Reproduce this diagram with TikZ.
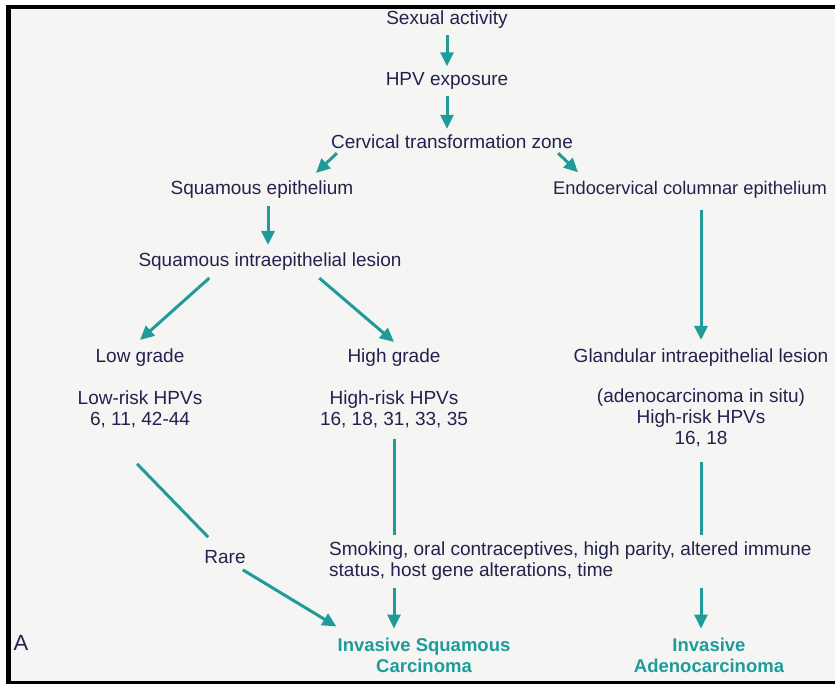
\documentclass[tikz,border=0pt]{standalone}
\usepackage{fontspec}
\setmainfont{Liberation Sans}
\usetikzlibrary{arrows.meta,calc}
\definecolor{ink}{HTML}{23224F}
\definecolor{tealc}{HTML}{1F9C9A}
\definecolor{bgc}{HTML}{F5F5F3}
\begin{document}
\begin{tikzpicture}[x=1pt,y=-1pt,
  lbl/.style={text=ink,font=\fontsize{19}{21}\selectfont,inner sep=0pt,align=center},
  outc/.style={text=tealc,font=\fontsize{18.5}{21}\selectfont\bfseries,inner sep=0pt,align=center},
  arr/.style={draw=tealc,line width=3pt,-{Triangle[width=13pt,length=14pt]}},
  ln/.style={draw=tealc,line width=3pt}]
\useasboundingbox (0,0) rectangle (835,684);
\clip (0,0) rectangle (835,684);
\fill[white] (0,0) rectangle (835,684);
\fill[bgc] (9,7) rectangle (840,681);
\draw[line width=4.5pt] (8.5,690) -- (8.5,7) -- (840,7);
\draw[line width=3pt] (8.5,682) -- (840,682);

\node[lbl] (sex) at (447,20) {Sexual activity};
\node[lbl] (hpv) at (447,81) {HPV exposure};
\node[lbl] (ctz) at (452,142) {Cervical transformation zone};
\node[lbl] (sq) at (262,190) {Squamous epithelium};
\node[lbl,anchor=west,font=\fontsize{18.3}{21}\selectfont] (endo) at (553,190) {Endocervical columnar epithelium};
\node[lbl] (sil) at (270,262) {Squamous intraepithelial lesion};
\node[lbl] (low) at (140,358) {Low grade};
\node[lbl] (high) at (394,358) {High grade};
\node[lbl] (gland) at (701,358) {Glandular intraepithelial lesion};
\node[lbl] (lowrisk) at (140,409) {Low-risk HPVs\\6, 11, 42-44};
\node[lbl] (highrisk) at (394,409) {High-risk HPVs\\16, 18, 31, 33, 35};
\node[lbl] (adeno) at (701,418) {(adenocarcinoma in situ)\\High-risk HPVs\\16, 18};
\node[lbl] (rare) at (225,557) {Rare};
\node[lbl,align=left,anchor=west] (smoke) at (329,561) {Smoking, oral contraceptives, high parity, altered immune\\status, host gene alterations, time};
\node[outc] (iscc) at (424,655) {Invasive Squamous\\Carcinoma};
\node[outc] (iadc) at (709,655) {Invasive\\Adenocarcinoma};
\node[lbl,font=\fontsize{22}{24}\selectfont] (lblA) at (21,643) {A};

\draw[arr] ($(sex.south)+(0,6)$) -- ($(hpv.north)+(0,-6)$);
\draw[arr] ($(hpv.south)+(0,6)$) -- ($(hpv.south |- ctz.north)+(0,-6)$);
\draw[arr] ($(ctz.south west)+(6,4)$) -- ($(sq.north)+(54,-8)$);
\draw[arr] ($(ctz.south east)+(-15,4)$) -- ($(endo.north west)+(25,-9)$);
\draw[arr] ($(sq.south)+(6,7)$) -- ($(sil.north)+(-2,-8)$);
\draw[arr] ($(sil.south west)+(71,7)$) -- ($(low.north)+(0,-9)$);
\draw[arr] ($(sil.south west)+(181,7)$) -- ($(high.north)+(0,-7)$);
\draw[arr] ($(gland.north |- endo.south)+(0,11)$) -- ($(gland.north)+(0,-9)$);
\draw[ln] ($(lowrisk.south)+(-3,36)$) -- ($(rare.north west)+(4,-13)$);
\draw[arr] ($(rare.south east)+(-3,6)$) -- ($(iscc.north west)+(-1,-11)$);
\draw[ln] ($(highrisk.south)+(0,11)$) -- ($(high.north |- smoke.north)+(0,-6)$);
\draw[arr] ($(high.north |- smoke.south)+(0,7)$) -- ($(high.north |- iscc.north)+(0,-9)$);
\draw[ln] ($(adeno.south)+(0,15)$) -- ($(gland.north |- smoke.north)+(0,-6)$);
\draw[arr] ($(gland.north |- smoke.south)+(0,7)$) -- ($(gland.north |- iadc.north)+(0,-9)$);
\end{tikzpicture}
\end{document}
